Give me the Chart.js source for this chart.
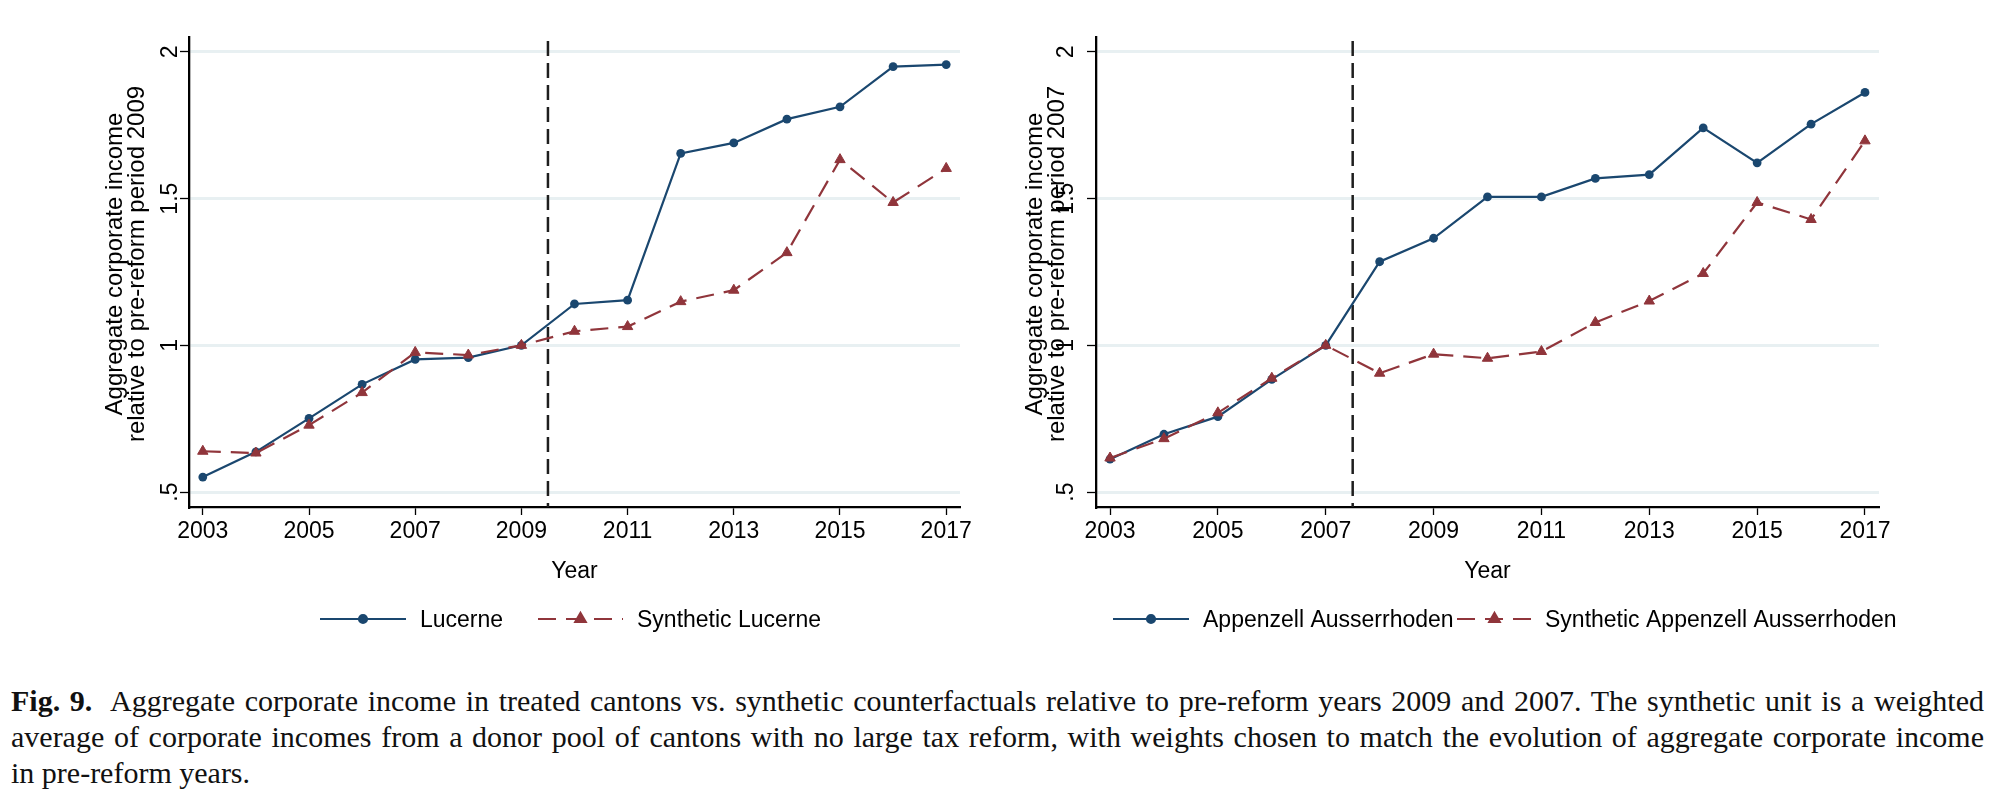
<!DOCTYPE html>
<html>
<head>
<meta charset="utf-8">
<script src="https://cdn.jsdelivr.net/npm/chart.js@4.4.1/dist/chart.umd.min.js"></script>
<style>
  body { margin: 0; background: #fff; width: 1999px; height: 803px; overflow: hidden; position: relative; }
  #left { position: absolute; left: 0; top: 0; }
  #right { position: absolute; left: 1000px; top: 0; }
  #caption { position: absolute; left: 11px; top: 683px; width: 1973px; font: 30px/36px "Liberation Serif", "Times New Roman", serif; color: #111; }
  #caption div { white-space: nowrap; text-align: justify; text-align-last: justify; }
  #caption div.last { text-align-last: left; }
</style>
</head>
<body>
<canvas id="left" width="1000" height="660"></canvas>
<canvas id="right" width="999" height="660"></canvas>
<div id="caption">
  <div><b>Fig. 9.</b>&nbsp; Aggregate corporate income in treated cantons vs. synthetic counterfactuals relative to pre-reform years 2009 and 2007. The synthetic unit is a weighted</div>
  <div>average of corporate incomes from a donor pool of cantons with no large tax reform, with weights chosen to match the evolution of aggregate corporate income</div>
  <div class="last">in pre-reform years.</div>
</div>

<script>
// DATA
const years = [2003, 2004, 2005, 2006, 2007, 2008, 2009, 2010, 2011, 2012, 2013, 2014, 2015, 2016, 2017];
const xTicks = [2003, 2005, 2007, 2009, 2011, 2013, 2015, 2017];
const yTicks = [0.5, 1, 1.5, 2];
const yTickLabels = [".5", "1", "1.5", "2"];

const lucerne = [0.551, 0.637, 0.751, 0.867, 0.952, 0.958, 1.0, 1.141, 1.154, 1.654, 1.690, 1.771, 1.813, 1.950, 1.957];
const synthLucerne = [0.639, 0.633, 0.728, 0.839, 0.976, 0.967, 1.0, 1.048, 1.064, 1.149, 1.188, 1.316, 1.633, 1.487, 1.603];
const appenzell = [0.612, 0.697, 0.757, 0.884, 1.0, 1.285, 1.365, 1.506, 1.506, 1.569, 1.582, 1.741, 1.622, 1.754, 1.862];
const synthAppenzell = [0.616, 0.682, 0.770, 0.888, 1.0, 0.905, 0.970, 0.956, 0.979, 1.078, 1.151, 1.245, 1.487, 1.429, 1.697];

const BLUE = "#1a476f";
const RED = "#90353b";
const FONT = '"Liberation Sans", Arial, sans-serif';

// DECORATIONS: reform line, rotated y labels, titles, legend
const panelDecor = {
  id: "panelDecor",
  beforeDatasetsDraw(chart, args, o) {
    const { ctx, chartArea, scales: { x } } = chart;
    const px = x.getPixelForValue(o.reform);
    ctx.save();
    ctx.strokeStyle = "#1e1e1e";
    ctx.lineWidth = 2.5;
    ctx.setLineDash([15, 7]);
    ctx.beginPath();
    ctx.moveTo(px, chartArea.top + 4);
    ctx.lineTo(px, chartArea.bottom);
    ctx.stroke();
    ctx.restore();
  },
  afterDraw(chart, args, o) {
    const { ctx, chartArea, scales: { x, y } } = chart;
    ctx.save();
    ctx.fillStyle = "#000";

    // y tick labels, vertical
    ctx.font = "23px " + FONT;
    ctx.textAlign = "center";
    ctx.textBaseline = "alphabetic";
    yTicks.forEach((v, i) => {
      ctx.save();
      ctx.translate(o.yLabelX, y.getPixelForValue(v));
      ctx.rotate(-Math.PI / 2);
      ctx.fillText(yTickLabels[i], 0, 0);
      ctx.restore();
    });

    // y title
    ctx.font = "24px " + FONT;
    ctx.textBaseline = "middle";
    o.yTitle.forEach((line, i) => {
      ctx.save();
      ctx.translate(o.yTitleX[i], 264);
      ctx.rotate(-Math.PI / 2);
      ctx.fillText(line, 0, 0);
      ctx.restore();
    });

    // x title
    ctx.font = "23px " + FONT;
    ctx.textBaseline = "alphabetic";
    ctx.fillText("Year", (chartArea.left + chartArea.right) / 2, 578);

    // legend
    o.legend.forEach(item => {
      const ds = chart.data.datasets[item.ds];
      const ly = 619;
      ctx.save();
      ctx.strokeStyle = ds.borderColor;
      ctx.lineWidth = 2.2;
      ctx.setLineDash(ds.borderDash || []);
      ctx.beginPath();
      ctx.moveTo(item.x1, ly);
      ctx.lineTo(item.x2, ly);
      ctx.stroke();
      ctx.setLineDash([]);
      ctx.fillStyle = ds.borderColor;
      Chart.helpers.drawPoint(ctx, {
        pointStyle: ds.pointStyle,
        radius: ds.pointStyle === "triangle" ? 6 : 4,
        borderWidth: 1
      }, (item.x1 + item.x2) / 2, ly);
      ctx.restore();
      ctx.textAlign = "left";
      ctx.fillText(item.text, item.textX, 627);
    });
    ctx.restore();
  }
};

function makeChart(id, treated, synth, names, padRight, axisWidth, decor) {
  return new Chart(document.getElementById(id), {
    type: "line",
    data: {
      datasets: [
        {
          label: names[0],
          data: years.map((yr, i) => ({ x: yr, y: treated[i] })),
          borderColor: BLUE, backgroundColor: BLUE,
          borderWidth: 2.2, pointStyle: "circle", pointRadius: 4.4,
          pointBorderWidth: 0, tension: 0, order: 1
        },
        {
          label: names[1],
          data: years.map((yr, i) => ({ x: yr, y: synth[i] })),
          borderColor: RED, backgroundColor: RED,
          borderWidth: 2.2, borderDash: [18, 10],
          pointStyle: "triangle", pointRadius: 6,
          pointBorderWidth: 1, tension: 0, order: 0
        }
      ]
    },
    options: {
      responsive: false,
      animation: false,
      devicePixelRatio: 1,
      layout: { padding: { left: 0, top: 37, right: padRight, bottom: 0 }, autoPadding: false },
      plugins: { legend: { display: false }, tooltip: { enabled: false }, panelDecor: decor },
      scales: {
        x: {
          type: "linear", min: 2002.74, max: 2017.26,
          afterBuildTicks: s => { s.ticks = xTicks.map(v => ({ value: v })); },
          afterFit: s => { s.height = 660 - 507; },
          ticks: { autoSkip: false, maxRotation: 0, padding: 3, color: "#000",
                   font: { family: FONT, size: 23 }, callback: v => String(v) },
          grid: { display: true, drawOnChartArea: false, drawTicks: true,
                  tickLength: 8, tickColor: "#000", tickWidth: 1.3 },
          border: { display: true, color: "#000", width: 2.3 }
        },
        y: {
          min: 0.449, max: 2.051,
          afterBuildTicks: s => { s.ticks = yTicks.map(v => ({ value: v })); },
          afterFit: s => { s.width = axisWidth; },
          ticks: { display: false },
          grid: { display: true, color: "#e8f0f2", lineWidth: 3, drawTicks: true,
                  tickLength: 9, tickColor: "#000", tickWidth: 1.3 },
          border: { display: true, color: "#000", width: 2.3 }
        }
      }
    },
    plugins: [panelDecor]
  });
}

makeChart("left", lucerne, synthLucerne, ["Lucerne", "Synthetic Lucerne"], 40, 189, {
  reform: 2009.5,
  yLabelX: 177,
  yTitle: ["Aggregate corporate income", "relative to pre-reform period 2009"],
  yTitleX: [115, 137],
  legend: [
    { ds: 0, x1: 320, x2: 406, text: "Lucerne", textX: 420 },
    { ds: 1, x1: 538, x2: 623, text: "Synthetic Lucerne", textX: 637 }
  ]
});

makeChart("right", appenzell, synthAppenzell, ["Appenzell Ausserrhoden", "Synthetic Appenzell Ausserrhoden"], 120, 96, {
  reform: 2007.5,
  yLabelX: 73,
  yTitle: ["Aggregate corporate income", "relative to pre-reform period 2007"],
  yTitleX: [35, 57],
  legend: [
    { ds: 0, x1: 113, x2: 189, text: "Appenzell Ausserrhoden", textX: 203 },
    { ds: 1, x1: 457, x2: 532, text: "Synthetic Appenzell Ausserrhoden", textX: 545 }
  ]
});
</script>
</body>
</html>
